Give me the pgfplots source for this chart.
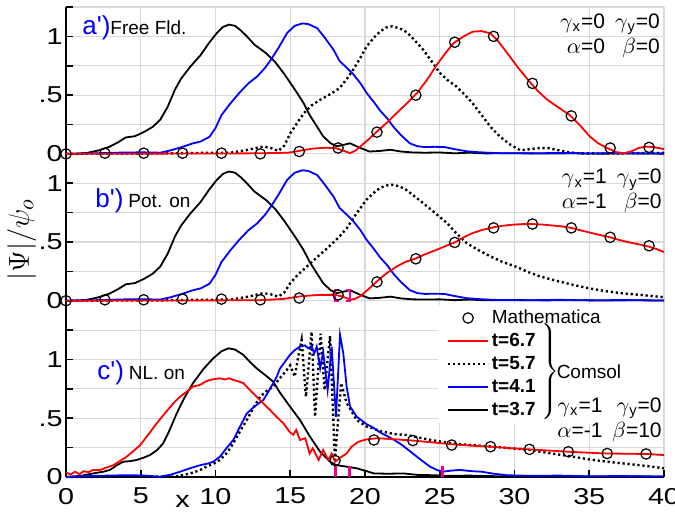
\documentclass[border=0pt]{standalone}
\usepackage{fontspec}
\setmainfont{Liberation Sans}
\newfontfamily\tickfont{Liberation Sans}[FakeStretch=1.25]
\usepackage{pgfplots}
\usepackage{pgfplotstable}
\pgfplotsset{compat=1.18}

% ---- panels a') and b'): t=3.7 (black) and t=4.1 (blue) ----
\pgfplotstableread{
x y
0 0
0.8 0.002
1.4 0.008
2.2 0.03
2.9 0.06
3.5 0.1
4.0 0.14
4.6 0.15
5.2 0.185
5.8 0.23
6.3 0.29
6.8 0.40
7.3 0.55
7.7 0.64
8.3 0.74
9.0 0.84
9.6 0.95
10.1 1.03
10.5 1.08
10.9 1.10
11.3 1.09
11.7 1.05
12.1 1.00
12.6 0.93
13.4 0.855
14.0 0.78
14.6 0.68
15.4 0.53
15.9 0.43
16.3 0.33
16.8 0.23
17.2 0.15
17.7 0.09
18.1 0.065
18.5 0.075
19.0 0.09
19.6 0.055
20.3 0.02
21.0 0.025
21.7 0.035
22.4 0.02
23.2 0.012
24.0 0.01
25 0.012
26 0.005
27 0.01
28 0.004
30 0.006
32 0.003
34 0.005
36 0.002
38 0.004
40 0.002
}\blkAB

\pgfplotstableread{
x y
0 0
2 0.005
4 0.012
5.2 0.013
6.3 0.01
7.0 0.03
7.8 0.06
8.5 0.09
9.0 0.105
9.6 0.145
10.0 0.22
10.4 0.33
11.0 0.43
11.6 0.52
12.2 0.6
12.8 0.66
13.3 0.73
13.7 0.8
14.2 0.9
14.8 1.03
15.3 1.09
15.8 1.11
16.2 1.105
16.8 1.07
17.3 0.99
17.9 0.885
18.3 0.79
18.8 0.73
19.2 0.68
19.7 0.6
20.1 0.52
20.6 0.44
21.0 0.37
21.5 0.30
21.9 0.23
22.4 0.16
23.0 0.09
23.5 0.065
24.0 0.058
24.7 0.06
25.3 0.058
26.0 0.04
26.8 0.022
27.5 0.015
28.2 0.01
29 0.006
31 0.004
33 0.008
35 0.003
37 0.006
40 0.002
}\bluAB

% ---- panel a'): t=5.7 dotted, t=6.7 red ----
\pgfplotstableread{
x y
0 0
3 0.002
6 0.003
9 0.008
11 0.01
12.0 0.03
12.7 0.05
13.2 0.062
13.7 0.05
14.2 0.025
14.6 0.07
15.0 0.175
15.5 0.27
15.9 0.345
16.4 0.41
17.0 0.46
17.7 0.51
18.3 0.56
18.8 0.64
19.2 0.715
19.7 0.82
20.1 0.913
20.6 0.99
21.0 1.04
21.4 1.075
21.8 1.085
22.3 1.07
22.8 1.035
23.3 0.97
23.9 0.885
24.5 0.78
25.0 0.69
25.5 0.63
26.1 0.575
26.7 0.5
27.2 0.43
27.8 0.33
28.4 0.23
29.0 0.15
29.7 0.08
30.4 0.03
31.0 0.04
31.7 0.05
32.3 0.048
32.8 0.035
33.5 0.015
34.3 0.005
36 0.003
38 0.006
40 0.008
}\dotA

\pgfplotstableread{
x y
0 0
5 0.002
10 0.003
13 0.005
14.9 0.01
15.8 0.03
16.5 0.045
17.3 0.052
18.0 0.05
18.5 0.03
19.0 0.006
19.4 0.03
19.8 0.075
20.3 0.13
20.8 0.19
21.5 0.27
22.1 0.345
22.8 0.43
23.5 0.52
24.2 0.64
24.8 0.757
25.4 0.86
25.9 0.94
26.6 1.0
27.2 1.04
27.8 1.045
28.4 1.025
28.9 0.96
29.5 0.86
30.2 0.74
31.0 0.615
31.6 0.53
32.2 0.46
33.0 0.39
33.7 0.33
34.4 0.24
35.05 0.147
35.6 0.09
36.2 0.05
36.8 0.015
37.3 0.006
37.8 0.02
38.3 0.05
38.8 0.062
39.3 0.058
40 0.04
}\redA

\pgfplotstableread{
x y
0 0
2.6 0.006
5.2 0.006
7.8 0.006
10.4 0.006
13.0 0
15.6 0.02
18.2 0.05
20.8 0.185
23.4 0.5
26.0 0.95
28.6 1.0
31.2 0.6
33.8 0.323
36.4 0.05
39.0 0.055
}\cirA

% ---- panel b') ----
\pgfplotstableread{
x y
0 0
3 0.002
6 0.003
9 0.008
11 0.01
12.0 0.03
12.7 0.05
13.2 0.065
13.7 0.055
14.2 0.035
14.6 0.07
15.0 0.15
15.5 0.22
16.1 0.29
16.7 0.36
17.5 0.45
18.3 0.547
18.8 0.62
19.2 0.70
19.7 0.79
20.1 0.86
20.6 0.92
21.0 0.96
21.4 0.98
21.8 0.987
22.3 0.975
22.8 0.94
23.3 0.89
23.9 0.83
24.7 0.745
25.5 0.66
26.1 0.575
26.8 0.49
27.6 0.43
28.4 0.377
29.2 0.33
30.1 0.29
30.9 0.245
31.7 0.207
32.8 0.17
33.9 0.136
35.0 0.105
36.2 0.08
37.3 0.062
38.4 0.05
39.2 0.04
40 0.03
}\dotB

\pgfplotstableread{
x y
0 0
5 0.002
10 0.003
13 0.005
14.5 0.015
15.65 0.037
16.4 0.045
17.0 0.05
18.0 0.05
18.5 0.035
19.06 0.008
19.4 0.02
19.7 0.04
20.2 0.095
20.8 0.165
21.4 0.23
22.1 0.29
22.7 0.33
23.4 0.36
24.1 0.4
24.8 0.434
25.4 0.466
26.0 0.496
26.6 0.54
27.2 0.576
27.9 0.605
28.6 0.625
29.3 0.64
29.9 0.647
30.5 0.652
31.2 0.653
31.9 0.648
32.6 0.64
33.2 0.632
33.8 0.62
34.4 0.60
35.05 0.58
35.7 0.56
36.4 0.54
37.0 0.518
37.7 0.496
38.4 0.478
39.0 0.46
39.5 0.44
40 0.415
}\redB

\pgfplotstableread{
x y
0 0
2.6 0.008
5.2 0.008
7.8 0.014
10.4 0.014
13.0 0.008
15.6 0.023
18.2 0.05
20.8 0.16
23.4 0.357
26.0 0.496
28.6 0.62
31.2 0.653
33.8 0.62
36.4 0.54
39.0 0.468
}\cirB

% ---- panel c') ----
\pgfplotstableread{
x y
0 0
1.0 0.01
1.8 0.03
2.5 0.045
2.94 0.06
3.4 0.1
3.83 0.13
4.3 0.135
4.73 0.145
5.2 0.165
5.62 0.187
6.1 0.23
6.5 0.287
6.9 0.39
7.4 0.54
7.9 0.67
8.5 0.80
9.2 0.92
9.85 1.01
10.4 1.07
10.86 1.095
11.3 1.085
11.86 1.04
12.3 0.98
12.75 0.925
13.3 0.87
13.87 0.81
14.3 0.72
14.98 0.6
15.65 0.485
16.32 0.343
17.0 0.215
17.66 0.13
18.1 0.1
18.77 0.088
19.45 0.074
20.1 0.05
20.6 0.03
21.5 0.028
22.6 0.03
23.5 0.018
24.6 0.015
25.5 0.01
27 0.012
29 0.006
32 0.008
35 0.004
38 0.006
40 0.003
}\blkC

\pgfplotstableread{
x y
0 0.04
0.3 0.02
0.6 0.045
0.9 0.025
1.2 0.05
1.5 0.04
1.8 0.06
2.27 0.06
2.7 0.08
3.16 0.1
3.6 0.135
4.06 0.173
4.5 0.22
4.95 0.27
5.5 0.36
6.07 0.457
6.6 0.54
7.18 0.627
7.6 0.68
8.07 0.726
8.5 0.77
8.96 0.783
9.3 0.81
9.63 0.826
10.0 0.835
10.3 0.84
10.6 0.83
10.9 0.84
11.19 0.826
11.5 0.815
11.86 0.80
12.3 0.74
12.75 0.683
13.2 0.625
13.65 0.57
14.1 0.51
14.54 0.457
14.98 0.38
15.2 0.36
15.4 0.4
15.65 0.315
16.0 0.33
16.3 0.2
16.5 0.245
16.9 0.145
17.2 0.23
17.55 0.145
17.77 0.2
18.0 0.13
18.44 0.173
18.77 0.2
19.1 0.258
19.55 0.3
20.1 0.32
20.8 0.33
21.5 0.325
22.3 0.318
23.2 0.31
24.5 0.295
25.8 0.278
27.0 0.268
28.36 0.258
29.7 0.246
31.0 0.235
32.3 0.225
33.6 0.215
34.9 0.207
36.2 0.2
37.5 0.198
38.8 0.196
40 0.187
}\redC

\pgfplotstableread{
x y
0 0
2 0.01
4 0.015
5.17 0.013
6.3 0.002
7.0 0.02
7.63 0.045
8.3 0.075
8.96 0.1
9.5 0.115
9.85 0.13
10.3 0.173
10.7 0.24
11.19 0.315
11.6 0.42
12.09 0.54
12.6 0.6
13.2 0.655
13.6 0.74
14.1 0.854
14.3 0.92
14.98 1.04
15.3 1.08
15.65 1.11
15.99 1.12
16.2 1.095
16.43 1.115
16.6 1.05
16.77 1.11
17.0 0.925
17.2 1.066
17.5 0.74
17.77 1.11
18.06 0.513
18.33 1.21
18.55 1.05
18.77 0.77
19.0 0.6
19.45 0.513
20.1 0.45
20.55 0.42
21.0 0.38
21.9 0.32
22.5 0.27
23.2 0.2
23.8 0.14
24.35 0.088
24.8 0.06
25.2 0.045
25.8 0.055
26.35 0.06
27.1 0.05
27.8 0.045
28.6 0.028
29.5 0.015
31 0.01
33 0.012
35 0.006
37 0.008
40 0.004
}\bluC

\pgfplotstableread{
x y
0 0
3 0.002
6.5 0.003
7.4 0.005
8.3 0.03
8.9 0.055
9.4 0.088
9.9 0.115
10.3 0.145
10.8 0.21
11.19 0.287
11.6 0.38
12.09 0.485
12.5 0.58
12.98 0.683
13.4 0.73
13.87 0.77
14.3 0.84
14.76 0.91
15.0 0.95
15.3 0.854
15.5 1.0
15.76 1.166
16.05 0.683
16.43 1.237
16.66 0.513
17.03 1.22
17.3 0.74
17.66 1.2
17.99 0.145
18.4 0.8
18.77 0.63
19.45 0.485
20.1 0.43
20.55 0.414
21.0 0.39
22.0 0.365
22.8 0.357
24.2 0.32
25.7 0.287
27.0 0.272
28.4 0.26
29.7 0.245
31.0 0.23
32.5 0.2
33.9 0.173
35.0 0.15
36.2 0.13
37.3 0.115
38.4 0.1
39.2 0.088
40 0.074
}\dotC

\pgfplotstableread{
x y
18.0 0.14
20.6 0.315
23.2 0.31
25.8 0.272
28.4 0.258
31.0 0.235
33.6 0.215
36.2 0.2
38.8 0.196
}\cirC

\begin{document}
\begin{tikzpicture}
\begin{axis}[
  name=ax,
  scale only axis, width=299pt, height=235pt,
  xmin=0, xmax=40, ymin=0, ymax=4,
  clip=false,
  axis x line*=bottom, axis y line*=left,
  axis line style={black, line width=0.8pt},
  tick align=inside,
  tick style={black, line width=0.8pt},
  major tick length=3.5pt,
  xtick={0,5,10,15,20,25,30,35,40},
  ytick={0,0.25,0.5,0.75,1,1.25,1.5,1.75,2,2.25,2.5,2.75,3,3.25,3.5,3.75,4},
  yticklabels={0,{},.5,{},1,{},0,{},.5,{},1,0,{},.5,{},1,{}},
  grid=major,
  major grid style={gray!30, line width=0.6pt},
  /pgf/number format/assume math mode=true,
  ticklabel style={font=\fontsize{11.5}{13}\tickfont},
  xticklabel style={yshift=-2pt},
  yticklabel style={inner xsep=1.5pt},
  xlabel={x},
  xlabel style={at={(axis description cs:0.195,0)}, anchor=base, yshift=-15pt, font=\fontsize{11.5}{13}\tickfont},
  ylabel={$|\Psi|/\psi_o$},
  ylabel style={at={(axis description cs:-0.074,0.505)}, anchor=center, font=\fontsize{15}{18}\selectfont},
  legend style={at={(axis cs:25.45,1.45)}, anchor=north west, draw=none, fill=none,
    font=\fontsize{9.5}{11}\selectfont, row sep=0.8pt, inner sep=0pt,
    nodes={inner sep=1.3pt}},
  legend cell align=left,
]
% legend
\addlegendimage{legend image code/.code={\draw[black,line width=0.6pt] (10pt,0pt) circle[radius=2.6pt];}}
\addlegendentry{Mathematica}
\addlegendimage{legend image code/.code={\draw[red,line width=0.9pt] (0pt,0pt) -- (20pt,0pt);}}
\addlegendentry{\textbf{t=6.7}}
\addlegendimage{legend image code/.code={\draw[black,line width=1.2pt,dash pattern=on 1.1pt off 1.4pt] (0pt,0pt) -- (20pt,0pt);}}
\addlegendentry{\textbf{t=5.7}}
\addlegendimage{legend image code/.code={\draw[blue,line width=0.9pt] (0pt,0pt) -- (20pt,0pt);}}
\addlegendentry{\textbf{t=4.1}}
\addlegendimage{legend image code/.code={\draw[black,line width=0.9pt] (0pt,0pt) -- (20pt,0pt);}}
\addlegendentry{\textbf{t=3.7}}

% white legend background
\fill[white] (axis cs:24.9,0.46) rectangle (axis cs:39.93,1.46);

% ---------- panel a') offset 2.75 ----------
\addplot[black, line width=0.9pt, forget plot] table[x=x, y expr=\thisrow{y}+2.75] {\blkAB};
\addplot[black, line width=1.2pt, dash pattern=on 1.1pt off 1.4pt, forget plot] table[x=x, y expr=\thisrow{y}+2.75] {\dotA};
\addplot[blue, line width=0.9pt, forget plot] table[x=x, y expr=\thisrow{y}+2.75] {\bluAB};
\addplot[red, line width=0.9pt, forget plot] table[x=x, y expr=\thisrow{y}+2.75] {\redA};
\addplot[only marks, mark=o, mark size=2.6pt, mark options={black, line width=0.6pt}, forget plot] table[x=x, y expr=\thisrow{y}+2.75] {\cirA};

% ---------- panel b') offset 1.5 ----------
\addplot[black, line width=0.9pt, forget plot] table[x=x, y expr=\thisrow{y}+1.5] {\blkAB};
\addplot[black, line width=1.2pt, dash pattern=on 1.1pt off 1.4pt, forget plot] table[x=x, y expr=\thisrow{y}+1.5] {\dotB};
\addplot[blue, line width=0.9pt, forget plot] table[x=x, y expr=\thisrow{y}+1.5] {\bluAB};
\addplot[red, line width=0.9pt, forget plot] table[x=x, y expr=\thisrow{y}+1.5] {\redB};
\addplot[only marks, mark=o, mark size=2.6pt, mark options={black, line width=0.6pt}, forget plot] table[x=x, y expr=\thisrow{y}+1.5] {\cirB};
\addplot[magenta, line width=1.2pt, forget plot] coordinates {(18.25,1.5) (18.0,1.5) (18.0,1.594) (18.25,1.594)};
\addplot[magenta, line width=1.2pt, forget plot] coordinates {(18.75,1.5) (19.0,1.5) (19.0,1.594) (18.75,1.594)};

% ---------- panel c') offset 0 ----------
\addplot[black, line width=0.9pt, forget plot] table[x=x, y=y] {\blkC};
\addplot[black, line width=1.2pt, dash pattern=on 1.1pt off 1.4pt, forget plot] table[x=x, y=y] {\dotC};
\addplot[blue, line width=0.9pt, forget plot] table[x=x, y=y] {\bluC};
\addplot[red, line width=0.9pt, forget plot] table[x=x, y=y] {\redC};
\addplot[only marks, mark=o, mark size=2.6pt, mark options={black, line width=0.6pt}, forget plot] table[x=x, y=y] {\cirC};
\addplot[magenta, line width=1.4pt, forget plot] coordinates {(18.0,0) (18.0,0.094)};
\addplot[magenta, line width=1.4pt, forget plot] coordinates {(18.95,0) (18.95,0.094)};
\addplot[magenta, line width=1.4pt, forget plot] coordinates {(25.2,0) (25.2,0.094)};

% ---------- labels ----------
\node[anchor=base west, inner sep=0pt] at (axis cs:1.07,3.77)
  {{\color{blue}\fontsize{13}{15}\selectfont a\textquotesingle)}{\fontsize{9.5}{11}\selectfont Free Fld.}};
\node[anchor=base west, inner sep=0pt] at (axis cs:1.94,2.29)
  {{\color{blue}\fontsize{13}{15}\selectfont b\textquotesingle)}\hspace{2.5pt}{\fontsize{9.5}{11}\selectfont Pot. on}};
\node[anchor=base west, inner sep=0pt] at (axis cs:2.07,0.826)
  {{\color{blue}\fontsize{13}{15}\selectfont c\textquotesingle)}\hspace{2.5pt}{\fontsize{9.5}{11}\selectfont NL. on}};

\node[anchor=east, inner sep=0pt, font=\fontsize{10.5}{12.5}\selectfont] at (axis cs:39.75,3.753)
  {\begin{tabular}{@{}r@{\hspace{5pt}}r@{}}$\gamma$\textsubscript{x}=0 & $\gamma$\textsubscript{y}=0\\ $\alpha$=0 & $\beta$=0\end{tabular}};
\node[anchor=east, inner sep=0pt, font=\fontsize{10.5}{12.5}\selectfont] at (axis cs:39.87,2.43)
  {\begin{tabular}{@{}r@{\hspace{5pt}}r@{}}$\gamma$\textsubscript{x}=1 & $\gamma$\textsubscript{y}=0\\ $\alpha$=-1 & $\beta$=0\end{tabular}};
\node[anchor=east, inner sep=0pt, font=\fontsize{10.5}{12.5}\selectfont] at (axis cs:39.87,0.485)
  {\begin{tabular}{@{}r@{\hspace{5pt}}r@{}}$\gamma$\textsubscript{x}=1 & $\gamma$\textsubscript{y}=0\\ $\alpha$=-1 & $\beta$=10\end{tabular}};

\node[inner sep=0pt] at (axis cs:32.35,0.9) {$\left.\rule[-21pt]{0pt}{42pt}\right\}$};
\node[anchor=west, inner sep=0pt, font=\fontsize{9.5}{11}\selectfont] at (axis cs:32.8,0.894) {Comsol};
\end{axis}
\pgfresetboundingbox
\path ([shift={(-33pt,-18.5pt)}]ax.south west) rectangle ([shift={(5.5pt,3.5pt)}]ax.north east);
\end{tikzpicture}
\end{document}
